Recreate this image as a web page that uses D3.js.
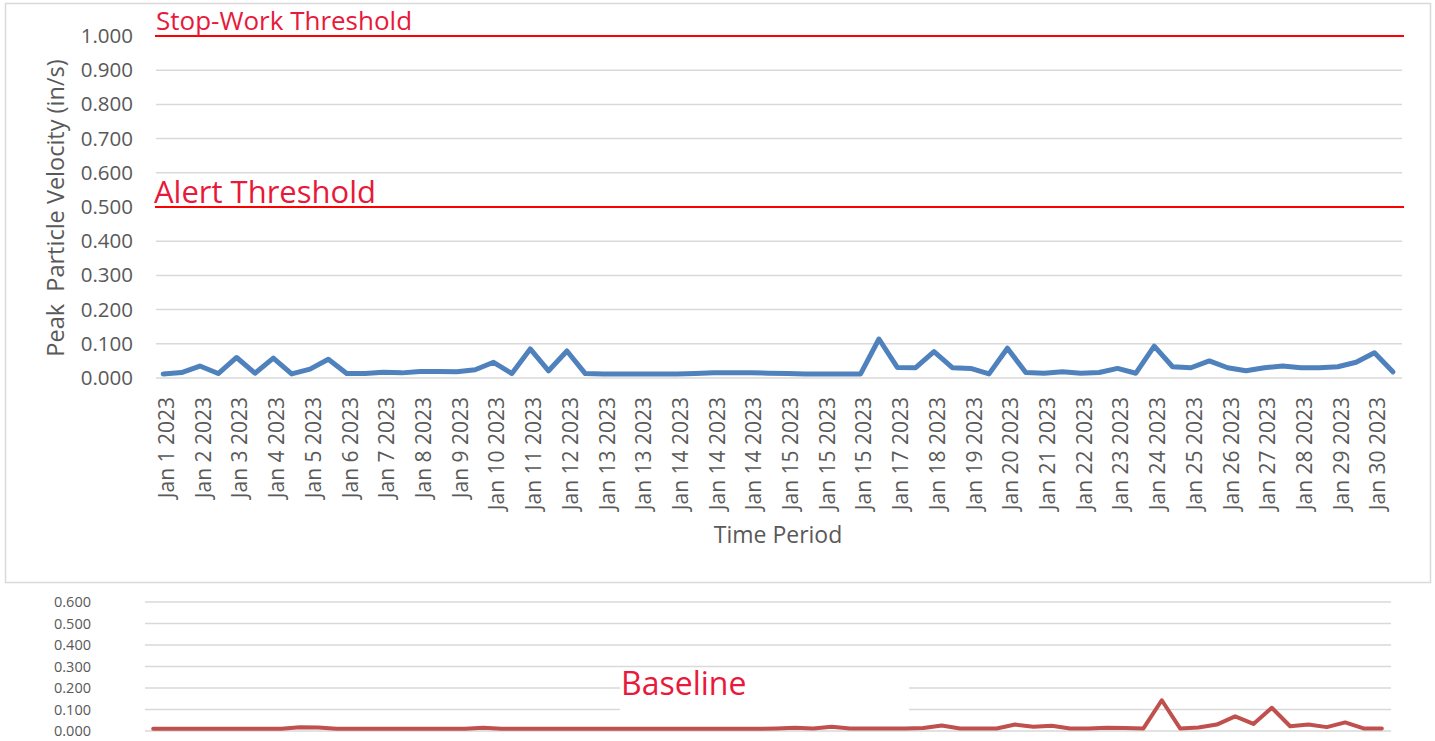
<!DOCTYPE html>
<html>
<head>
<meta charset="utf-8">
<script src="https://cdn.jsdelivr.net/npm/d3@7"></script>
<style>
  body { margin: 0; background: #fff; }
  text { font-family: "Open Sans", sans-serif; }
</style>
</head>
<body>
<div id="wrapper"></div>
<script>
// Tick labels on the time axis (one label every second reading)
const timeLabels = [
  "Jan 1 2023", "Jan 2 2023", "Jan 3 2023", "Jan 4 2023", "Jan 5 2023", "Jan 6 2023",
  "Jan 7 2023", "Jan 8 2023", "Jan 9 2023", "Jan 10 2023", "Jan 11 2023", "Jan 12 2023",
  "Jan 13 2023", "Jan 13 2023", "Jan 14 2023", "Jan 14 2023", "Jan 14 2023",
  "Jan 15 2023", "Jan 15 2023", "Jan 15 2023", "Jan 17 2023", "Jan 18 2023",
  "Jan 19 2023", "Jan 20 2023", "Jan 21 2023", "Jan 22 2023", "Jan 23 2023",
  "Jan 24 2023", "Jan 25 2023", "Jan 26 2023", "Jan 27 2023", "Jan 28 2023",
  "Jan 29 2023", "Jan 30 2023"
]

// Peak particle velocity readings (in/s), monitored period
const ppvValues = [
  0.012, 0.016, 0.035, 0.013, 0.060, 0.014, 0.058, 0.012, 0.026, 0.055,
  0.013, 0.013, 0.017, 0.015, 0.019, 0.019, 0.018, 0.024, 0.046, 0.013,
  0.085, 0.021, 0.079, 0.013, 0.012, 0.012, 0.012, 0.012, 0.012, 0.013,
  0.015, 0.015, 0.015, 0.014, 0.013, 0.012, 0.012, 0.012, 0.012, 0.114,
  0.031, 0.030, 0.077, 0.030, 0.028, 0.012, 0.087, 0.016, 0.014, 0.018,
  0.014, 0.016, 0.028, 0.014, 0.093, 0.033, 0.030, 0.050, 0.030, 0.021,
  0.030, 0.035, 0.030, 0.030, 0.033, 0.046, 0.074, 0.018
]

// Baseline readings (in/s)
const baselineValues = [
  0.010, 0.010, 0.010, 0.010, 0.010, 0.010, 0.010, 0.010, 0.017, 0.016,
  0.010, 0.010, 0.010, 0.010, 0.010, 0.010, 0.010, 0.010, 0.015, 0.010,
  0.010, 0.010, 0.010, 0.010, 0.010, 0.010, 0.010, 0.010, 0.010, 0.010,
  0.010, 0.010, 0.010, 0.010, 0.012, 0.015, 0.012, 0.020, 0.012, 0.012,
  0.012, 0.012, 0.014, 0.026, 0.012, 0.012, 0.012, 0.030, 0.020, 0.024,
  0.012, 0.012, 0.015, 0.014, 0.012, 0.143, 0.012, 0.016, 0.030, 0.068,
  0.033, 0.108, 0.022, 0.030, 0.018, 0.040, 0.012, 0.012
]

const thresholdNames = ["Stop-Work Threshold", "Alert Threshold"]
const thresholdValues = [1.0, 0.5]

const grey = "#595959"
const gridColor = "#d9d9d9"
const red = "#e8193a"

const svg = d3.select("#wrapper").append("svg")
  .attr("width", 1435)
  .attr("height", 741)

// ---------- main chart ----------
const main = { left: 154, right: 1402, top: 36, bottom: 378 }

svg.append("rect")
  .attr("x", 5.5).attr("y", 3.5)
  .attr("width", 1425).attr("height", 579)
  .attr("fill", "none")
  .attr("stroke", gridColor)
  .attr("stroke-width", 1.5)

const xScale = d3.scalePoint()
  .domain(d3.range(ppvValues.length))
  .range([main.left, main.right])
  .padding(0.5)

const yScale = d3.scaleLinear()
  .domain([0, 1])
  .range([main.bottom, main.top])

// gridlines
svg.append("g")
  .selectAll("line")
  .data(d3.range(0, 10).map(d => d / 10))
  .join("line")
  .attr("x1", main.left + 2)
  .attr("x2", main.right)
  .attr("y1", d => yScale(d))
  .attr("y2", d => yScale(d))
  .attr("stroke", gridColor)
  .attr("stroke-width", 1.5)

const yAxis = svg.append("g")
  .attr("transform", `translate(${main.left},0)`)
  .call(d3.axisLeft(yScale).ticks(10).tickFormat(d3.format(".3f")).tickSize(0).tickPadding(21))
yAxis.select(".domain").remove()
yAxis.selectAll("text")
  .attr("fill", grey)
  .style("font-size", "20.5px")

const xAxis = svg.append("g")
  .attr("transform", `translate(0,${main.bottom})`)
  .call(d3.axisBottom(xScale)
    .tickValues(d3.range(0, ppvValues.length, 2))
    .tickFormat(i => timeLabels[i / 2])
    .tickSize(0))
xAxis.select(".domain").remove()
xAxis.selectAll("text")
  .attr("transform", "rotate(-90)")
  .attr("x", -19)
  .attr("y", 3)
  .attr("dy", "0.35em")
  .attr("fill", grey)
  .style("text-anchor", "end")
  .style("font-size", "21px")

// thresholds
svg.append("g")
  .selectAll("line")
  .data(thresholdValues)
  .join("line")
  .attr("x1", main.left + 1)
  .attr("x2", main.right + 2)
  .attr("y1", d => yScale(d))
  .attr("y2", d => yScale(d))
  .attr("stroke", "#ff0000")
  .attr("stroke-width", 2)

svg.append("g")
  .selectAll("text")
  .data(thresholdNames)
  .join("text")
  .attr("x", (d, i) => i == 0 ? 156 : 154)
  .attr("y", (d, i) => yScale(thresholdValues[i]) - (i == 0 ? 6 : 4))
  .attr("fill", red)
  .style("font-size", (d, i) => i == 0 ? "26px" : "31px")
  .text(d => d)

const line = d3.line()
  .x((d, i) => xScale(i))
  .y(d => yScale(d))

svg.append("path")
  .datum(ppvValues)
  .attr("d", line)
  .attr("fill", "none")
  .attr("stroke", "#4f81bd")
  .attr("stroke-width", 5)
  .attr("stroke-linejoin", "round")
  .attr("stroke-linecap", "round")

svg.append("text")
  .attr("transform", "translate(64,208) rotate(-90)")
  .attr("text-anchor", "middle")
  .attr("fill", grey)
  .style("font-size", "23.5px")
  .style("white-space", "pre")
  .text("Peak  Particle Velocity (in/s)")

svg.append("text")
  .attr("x", 778)
  .attr("y", 543)
  .attr("text-anchor", "middle")
  .attr("fill", grey)
  .style("font-size", "23px")
  .text("Time Period")

// ---------- baseline chart ----------
const base = { left: 144, right: 1391, top: 602, bottom: 731 }

const xBase = d3.scalePoint()
  .domain(d3.range(baselineValues.length))
  .range([base.left, base.right])
  .padding(0.5)

const yBase = d3.scaleLinear()
  .domain([0, 0.6])
  .range([base.bottom, base.top])

svg.append("g")
  .selectAll("line")
  .data(yBase.ticks(6))
  .join("line")
  .attr("x1", base.left + 1)
  .attr("x2", base.right)
  .attr("y1", d => yBase(d))
  .attr("y2", d => yBase(d))
  .attr("stroke", gridColor)
  .attr("stroke-width", 1.5)

const yAxisBase = svg.append("g")
  .attr("transform", `translate(${base.left},0)`)
  .call(d3.axisLeft(yBase).ticks(6).tickFormat(d3.format(".3f")).tickSize(0).tickPadding(53))
yAxisBase.select(".domain").remove()
yAxisBase.selectAll("text")
  .attr("fill", grey)
  .style("font-size", "14.5px")

// white box behind the label
svg.append("rect")
  .attr("x", 620).attr("y", 676)
  .attr("width", 289).attr("height", 40)
  .attr("fill", "#fff")

svg.append("text")
  .attr("x", 621)
  .attr("y", 695)
  .attr("fill", red)
  .style("font-size", "32px")
  .text("Baseline")

const lineBase = d3.line()
  .x((d, i) => xBase(i))
  .y(d => yBase(d))

svg.append("path")
  .datum(baselineValues)
  .attr("d", lineBase)
  .attr("fill", "none")
  .attr("stroke", "#c0504d")
  .attr("stroke-width", 4)
  .attr("stroke-linejoin", "round")
  .attr("stroke-linecap", "round")
</script>
</body>
</html>
